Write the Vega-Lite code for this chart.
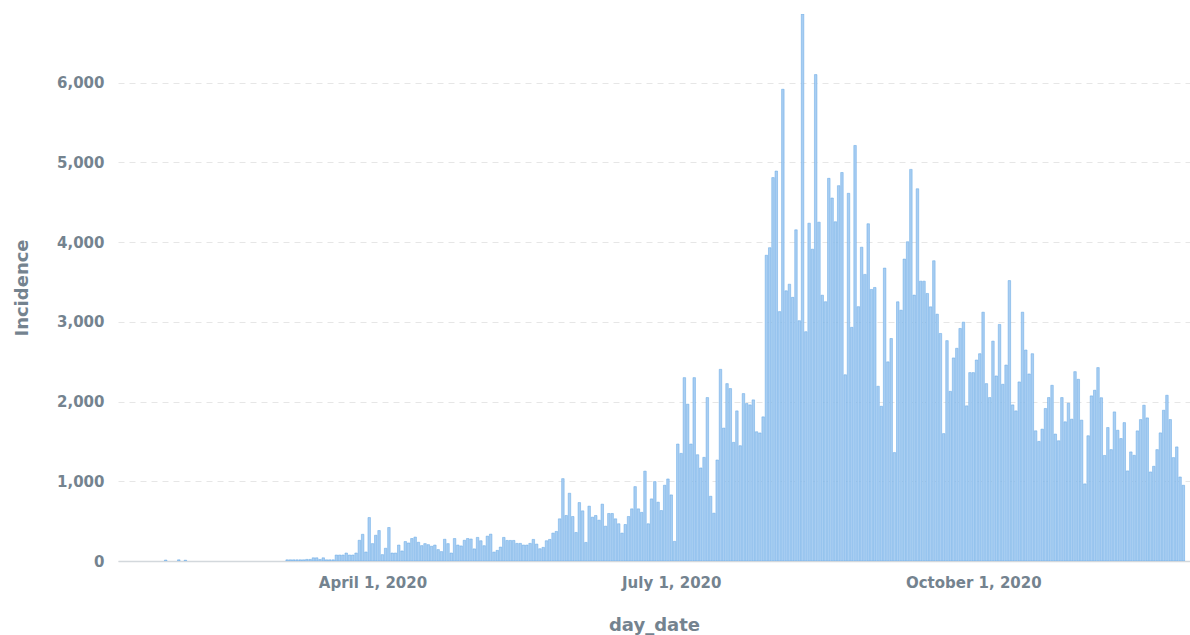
{
  "$schema": "https://vega.github.io/schema/vega-lite/v6.json",
  "autosize": {"type": "none"},
  "width": 1072,
  "height": 547,
  "padding": {"left": 118, "top": 14, "right": 0, "bottom": 74},
  "background": "white",
  "config": {"view": {"stroke": null}, "font": "DejaVu Sans"},
  "data": {"values": [
    {"day_date": "2020-01-29", "Incidence": 12},
    {"day_date": "2020-02-02", "Incidence": 15},
    {"day_date": "2020-02-04", "Incidence": 10},
    {"day_date": "2020-03-06", "Incidence": 15},
    {"day_date": "2020-03-07", "Incidence": 15},
    {"day_date": "2020-03-08", "Incidence": 15},
    {"day_date": "2020-03-09", "Incidence": 15},
    {"day_date": "2020-03-10", "Incidence": 15},
    {"day_date": "2020-03-11", "Incidence": 15},
    {"day_date": "2020-03-12", "Incidence": 20},
    {"day_date": "2020-03-13", "Incidence": 20},
    {"day_date": "2020-03-14", "Incidence": 40},
    {"day_date": "2020-03-15", "Incidence": 40},
    {"day_date": "2020-03-16", "Incidence": 20},
    {"day_date": "2020-03-17", "Incidence": 40},
    {"day_date": "2020-03-18", "Incidence": 15},
    {"day_date": "2020-03-19", "Incidence": 15},
    {"day_date": "2020-03-20", "Incidence": 15},
    {"day_date": "2020-03-21", "Incidence": 75},
    {"day_date": "2020-03-22", "Incidence": 75},
    {"day_date": "2020-03-23", "Incidence": 75},
    {"day_date": "2020-03-24", "Incidence": 100},
    {"day_date": "2020-03-25", "Incidence": 75},
    {"day_date": "2020-03-26", "Incidence": 75},
    {"day_date": "2020-03-27", "Incidence": 100},
    {"day_date": "2020-03-28", "Incidence": 260},
    {"day_date": "2020-03-29", "Incidence": 335},
    {"day_date": "2020-03-30", "Incidence": 113},
    {"day_date": "2020-03-31", "Incidence": 545},
    {"day_date": "2020-04-01", "Incidence": 218},
    {"day_date": "2020-04-02", "Incidence": 323},
    {"day_date": "2020-04-03", "Incidence": 382},
    {"day_date": "2020-04-04", "Incidence": 80},
    {"day_date": "2020-04-05", "Incidence": 160},
    {"day_date": "2020-04-06", "Incidence": 420},
    {"day_date": "2020-04-07", "Incidence": 100},
    {"day_date": "2020-04-08", "Incidence": 100},
    {"day_date": "2020-04-09", "Incidence": 200},
    {"day_date": "2020-04-10", "Incidence": 126},
    {"day_date": "2020-04-11", "Incidence": 244},
    {"day_date": "2020-04-12", "Incidence": 226},
    {"day_date": "2020-04-13", "Incidence": 282},
    {"day_date": "2020-04-14", "Incidence": 300},
    {"day_date": "2020-04-15", "Incidence": 235},
    {"day_date": "2020-04-16", "Incidence": 193},
    {"day_date": "2020-04-17", "Incidence": 218},
    {"day_date": "2020-04-18", "Incidence": 205},
    {"day_date": "2020-04-19", "Incidence": 185},
    {"day_date": "2020-04-20", "Incidence": 200},
    {"day_date": "2020-04-21", "Incidence": 143},
    {"day_date": "2020-04-22", "Incidence": 118},
    {"day_date": "2020-04-23", "Incidence": 273},
    {"day_date": "2020-04-24", "Incidence": 218},
    {"day_date": "2020-04-25", "Incidence": 100},
    {"day_date": "2020-04-26", "Incidence": 282},
    {"day_date": "2020-04-27", "Incidence": 200},
    {"day_date": "2020-04-28", "Incidence": 189},
    {"day_date": "2020-04-29", "Incidence": 260},
    {"day_date": "2020-04-30", "Incidence": 282},
    {"day_date": "2020-05-01", "Incidence": 276},
    {"day_date": "2020-05-02", "Incidence": 152},
    {"day_date": "2020-05-03", "Incidence": 296},
    {"day_date": "2020-05-04", "Incidence": 254},
    {"day_date": "2020-05-05", "Incidence": 192},
    {"day_date": "2020-05-06", "Incidence": 312},
    {"day_date": "2020-05-07", "Incidence": 337},
    {"day_date": "2020-05-08", "Incidence": 112},
    {"day_date": "2020-05-09", "Incidence": 133},
    {"day_date": "2020-05-10", "Incidence": 175},
    {"day_date": "2020-05-11", "Incidence": 296},
    {"day_date": "2020-05-12", "Incidence": 258},
    {"day_date": "2020-05-13", "Incidence": 258},
    {"day_date": "2020-05-14", "Incidence": 258},
    {"day_date": "2020-05-15", "Incidence": 221},
    {"day_date": "2020-05-16", "Incidence": 221},
    {"day_date": "2020-05-17", "Incidence": 200},
    {"day_date": "2020-05-18", "Incidence": 200},
    {"day_date": "2020-05-19", "Incidence": 221},
    {"day_date": "2020-05-20", "Incidence": 271},
    {"day_date": "2020-05-21", "Incidence": 212},
    {"day_date": "2020-05-22", "Incidence": 154},
    {"day_date": "2020-05-23", "Incidence": 171},
    {"day_date": "2020-05-24", "Incidence": 254},
    {"day_date": "2020-05-25", "Incidence": 271},
    {"day_date": "2020-05-26", "Incidence": 350},
    {"day_date": "2020-05-27", "Incidence": 371},
    {"day_date": "2020-05-28", "Incidence": 529},
    {"day_date": "2020-05-29", "Incidence": 1033},
    {"day_date": "2020-05-30", "Incidence": 571},
    {"day_date": "2020-05-31", "Incidence": 850},
    {"day_date": "2020-06-01", "Incidence": 558},
    {"day_date": "2020-06-02", "Incidence": 358},
    {"day_date": "2020-06-03", "Incidence": 733},
    {"day_date": "2020-06-04", "Incidence": 629},
    {"day_date": "2020-06-05", "Incidence": 233},
    {"day_date": "2020-06-06", "Incidence": 688},
    {"day_date": "2020-06-07", "Incidence": 550},
    {"day_date": "2020-06-08", "Incidence": 571},
    {"day_date": "2020-06-09", "Incidence": 512},
    {"day_date": "2020-06-10", "Incidence": 713},
    {"day_date": "2020-06-11", "Incidence": 437},
    {"day_date": "2020-06-12", "Incidence": 596},
    {"day_date": "2020-06-13", "Incidence": 596},
    {"day_date": "2020-06-14", "Incidence": 529},
    {"day_date": "2020-06-15", "Incidence": 467},
    {"day_date": "2020-06-16", "Incidence": 350},
    {"day_date": "2020-06-17", "Incidence": 458},
    {"day_date": "2020-06-18", "Incidence": 558},
    {"day_date": "2020-06-19", "Incidence": 654},
    {"day_date": "2020-06-20", "Incidence": 933},
    {"day_date": "2020-06-21", "Incidence": 654},
    {"day_date": "2020-06-22", "Incidence": 610},
    {"day_date": "2020-06-23", "Incidence": 1127},
    {"day_date": "2020-06-24", "Incidence": 467},
    {"day_date": "2020-06-25", "Incidence": 779},
    {"day_date": "2020-06-26", "Incidence": 996},
    {"day_date": "2020-06-27", "Incidence": 738},
    {"day_date": "2020-06-28", "Incidence": 633},
    {"day_date": "2020-06-29", "Incidence": 950},
    {"day_date": "2020-06-30", "Incidence": 1029},
    {"day_date": "2020-07-01", "Incidence": 829},
    {"day_date": "2020-07-02", "Incidence": 246},
    {"day_date": "2020-07-03", "Incidence": 1467},
    {"day_date": "2020-07-04", "Incidence": 1350},
    {"day_date": "2020-07-05", "Incidence": 2300},
    {"day_date": "2020-07-06", "Incidence": 1967},
    {"day_date": "2020-07-07", "Incidence": 1467},
    {"day_date": "2020-07-08", "Incidence": 2300},
    {"day_date": "2020-07-09", "Incidence": 1333},
    {"day_date": "2020-07-10", "Incidence": 1167},
    {"day_date": "2020-07-11", "Incidence": 1300},
    {"day_date": "2020-07-12", "Incidence": 2050},
    {"day_date": "2020-07-13", "Incidence": 812},
    {"day_date": "2020-07-14", "Incidence": 600},
    {"day_date": "2020-07-15", "Incidence": 1267},
    {"day_date": "2020-07-16", "Incidence": 2404},
    {"day_date": "2020-07-17", "Incidence": 1667},
    {"day_date": "2020-07-18", "Incidence": 2225},
    {"day_date": "2020-07-19", "Incidence": 2163},
    {"day_date": "2020-07-20", "Incidence": 1488},
    {"day_date": "2020-07-21", "Incidence": 1883},
    {"day_date": "2020-07-22", "Incidence": 1446},
    {"day_date": "2020-07-23", "Incidence": 2100},
    {"day_date": "2020-07-24", "Incidence": 1975},
    {"day_date": "2020-07-25", "Incidence": 1958},
    {"day_date": "2020-07-26", "Incidence": 2021},
    {"day_date": "2020-07-27", "Incidence": 1621},
    {"day_date": "2020-07-28", "Incidence": 1606},
    {"day_date": "2020-07-29", "Incidence": 1808},
    {"day_date": "2020-07-30", "Incidence": 3835},
    {"day_date": "2020-07-31", "Incidence": 3930},
    {"day_date": "2020-08-01", "Incidence": 4809},
    {"day_date": "2020-08-02", "Incidence": 4891},
    {"day_date": "2020-08-03", "Incidence": 3128},
    {"day_date": "2020-08-04", "Incidence": 5917},
    {"day_date": "2020-08-05", "Incidence": 3389},
    {"day_date": "2020-08-06", "Incidence": 3472},
    {"day_date": "2020-08-07", "Incidence": 3307},
    {"day_date": "2020-08-08", "Incidence": 4154},
    {"day_date": "2020-08-09", "Incidence": 3014},
    {"day_date": "2020-08-10", "Incidence": 6861},
    {"day_date": "2020-08-11", "Incidence": 2876},
    {"day_date": "2020-08-12", "Incidence": 4237},
    {"day_date": "2020-08-13", "Incidence": 3911},
    {"day_date": "2020-08-14", "Incidence": 6101},
    {"day_date": "2020-08-15", "Incidence": 4250},
    {"day_date": "2020-08-16", "Incidence": 3334},
    {"day_date": "2020-08-17", "Incidence": 3252},
    {"day_date": "2020-08-18", "Incidence": 4800},
    {"day_date": "2020-08-19", "Incidence": 4553},
    {"day_date": "2020-08-20", "Incidence": 4255},
    {"day_date": "2020-08-21", "Incidence": 4708},
    {"day_date": "2020-08-22", "Incidence": 4873},
    {"day_date": "2020-08-23", "Incidence": 2336},
    {"day_date": "2020-08-24", "Incidence": 4612},
    {"day_date": "2020-08-25", "Incidence": 2931},
    {"day_date": "2020-08-26", "Incidence": 5212},
    {"day_date": "2020-08-27", "Incidence": 3190},
    {"day_date": "2020-08-28", "Incidence": 3936},
    {"day_date": "2020-08-29", "Incidence": 3595},
    {"day_date": "2020-08-30", "Incidence": 4230},
    {"day_date": "2020-08-31", "Incidence": 3406},
    {"day_date": "2020-09-01", "Incidence": 3431},
    {"day_date": "2020-09-02", "Incidence": 2192},
    {"day_date": "2020-09-03", "Incidence": 1941},
    {"day_date": "2020-09-04", "Incidence": 3674},
    {"day_date": "2020-09-05", "Incidence": 2498},
    {"day_date": "2020-09-06", "Incidence": 2791},
    {"day_date": "2020-09-07", "Incidence": 1360},
    {"day_date": "2020-09-08", "Incidence": 3251},
    {"day_date": "2020-09-09", "Incidence": 3146},
    {"day_date": "2020-09-10", "Incidence": 3787},
    {"day_date": "2020-09-11", "Incidence": 4004},
    {"day_date": "2020-09-12", "Incidence": 4912},
    {"day_date": "2020-09-13", "Incidence": 3335},
    {"day_date": "2020-09-14", "Incidence": 4669},
    {"day_date": "2020-09-15", "Incidence": 3510},
    {"day_date": "2020-09-16", "Incidence": 3510},
    {"day_date": "2020-09-17", "Incidence": 3356},
    {"day_date": "2020-09-18", "Incidence": 3188},
    {"day_date": "2020-09-19", "Incidence": 3766},
    {"day_date": "2020-09-20", "Incidence": 3096},
    {"day_date": "2020-09-21", "Incidence": 2854},
    {"day_date": "2020-09-22", "Incidence": 1598},
    {"day_date": "2020-09-23", "Incidence": 2764},
    {"day_date": "2020-09-24", "Incidence": 2128},
    {"day_date": "2020-09-25", "Incidence": 2547},
    {"day_date": "2020-09-26", "Incidence": 2668},
    {"day_date": "2020-09-27", "Incidence": 2917},
    {"day_date": "2020-09-28", "Incidence": 2996},
    {"day_date": "2020-09-29", "Incidence": 1946},
    {"day_date": "2020-09-30", "Incidence": 2363},
    {"day_date": "2020-10-01", "Incidence": 2363},
    {"day_date": "2020-10-02", "Incidence": 2521},
    {"day_date": "2020-10-03", "Incidence": 2600},
    {"day_date": "2020-10-04", "Incidence": 3121},
    {"day_date": "2020-10-05", "Incidence": 2225},
    {"day_date": "2020-10-06", "Incidence": 2050},
    {"day_date": "2020-10-07", "Incidence": 2758},
    {"day_date": "2020-10-08", "Incidence": 2321},
    {"day_date": "2020-10-09", "Incidence": 2967},
    {"day_date": "2020-10-10", "Incidence": 2217},
    {"day_date": "2020-10-11", "Incidence": 2458},
    {"day_date": "2020-10-12", "Incidence": 3517},
    {"day_date": "2020-10-13", "Incidence": 1958},
    {"day_date": "2020-10-14", "Incidence": 1883},
    {"day_date": "2020-10-15", "Incidence": 2246},
    {"day_date": "2020-10-16", "Incidence": 3121},
    {"day_date": "2020-10-17", "Incidence": 2646},
    {"day_date": "2020-10-18", "Incidence": 2346},
    {"day_date": "2020-10-19", "Incidence": 2600},
    {"day_date": "2020-10-20", "Incidence": 1633},
    {"day_date": "2020-10-21", "Incidence": 1500},
    {"day_date": "2020-10-22", "Incidence": 1654},
    {"day_date": "2020-10-23", "Incidence": 1913},
    {"day_date": "2020-10-24", "Incidence": 2050},
    {"day_date": "2020-10-25", "Incidence": 2204},
    {"day_date": "2020-10-26", "Incidence": 1592},
    {"day_date": "2020-10-27", "Incidence": 1508},
    {"day_date": "2020-10-28", "Incidence": 2050},
    {"day_date": "2020-10-29", "Incidence": 1746},
    {"day_date": "2020-10-30", "Incidence": 1979},
    {"day_date": "2020-10-31", "Incidence": 1779},
    {"day_date": "2020-11-01", "Incidence": 2375},
    {"day_date": "2020-11-02", "Incidence": 2279},
    {"day_date": "2020-11-03", "Incidence": 1767},
    {"day_date": "2020-11-04", "Incidence": 967},
    {"day_date": "2020-11-05", "Incidence": 1571},
    {"day_date": "2020-11-06", "Incidence": 2071},
    {"day_date": "2020-11-07", "Incidence": 2142},
    {"day_date": "2020-11-08", "Incidence": 2426},
    {"day_date": "2020-11-09", "Incidence": 2048},
    {"day_date": "2020-11-10", "Incidence": 1324},
    {"day_date": "2020-11-11", "Incidence": 1674},
    {"day_date": "2020-11-12", "Incidence": 1397},
    {"day_date": "2020-11-13", "Incidence": 1870},
    {"day_date": "2020-11-14", "Incidence": 1640},
    {"day_date": "2020-11-15", "Incidence": 1536},
    {"day_date": "2020-11-16", "Incidence": 1736},
    {"day_date": "2020-11-17", "Incidence": 1130},
    {"day_date": "2020-11-18", "Incidence": 1368},
    {"day_date": "2020-11-19", "Incidence": 1326},
    {"day_date": "2020-11-20", "Incidence": 1632},
    {"day_date": "2020-11-21", "Incidence": 1774},
    {"day_date": "2020-11-22", "Incidence": 1954},
    {"day_date": "2020-11-23", "Incidence": 1795},
    {"day_date": "2020-11-24", "Incidence": 1117},
    {"day_date": "2020-11-25", "Incidence": 1188},
    {"day_date": "2020-11-26", "Incidence": 1397},
    {"day_date": "2020-11-27", "Incidence": 1607},
    {"day_date": "2020-11-28", "Incidence": 1891},
    {"day_date": "2020-11-29", "Incidence": 2079},
    {"day_date": "2020-11-30", "Incidence": 1774},
    {"day_date": "2020-12-01", "Incidence": 1297},
    {"day_date": "2020-12-02", "Incidence": 1431},
    {"day_date": "2020-12-03", "Incidence": 1054},
    {"day_date": "2020-12-04", "Incidence": 950}
  ]},
  "mark": {"type": "bar", "size": 2.5, "fill": "#a9cef2", "stroke": "#62a6e5", "strokeWidth": 0.5, "clip": true},
  "encoding": {
    "x": {
      "field": "day_date",
      "type": "temporal",
      "title": "day_date",
      "scale": {
        "type": "utc",
        "domain": [
          {"year": 2020, "month": 1, "date": 16, "utc": true},
          {"year": 2020, "month": 12, "date": 4, "hours": 12, "utc": true}
        ]
      },
      "axis": {
        "values": [
          {"year": 2020, "month": 4, "date": 1, "utc": true},
          {"year": 2020, "month": 7, "date": 1, "utc": true},
          {"year": 2020, "month": 10, "date": 1, "utc": true}
        ],
        "format": "%B %-d, %Y",
        "ticks": false,
        "grid": false,
        "domainColor": "#d3d8dc",
        "domainWidth": 1.5,
        "labelFont": "DejaVu Sans",
        "labelFontWeight": "bold",
        "labelFontSize": 15,
        "labelColor": "#74838f",
        "labelPadding": 14,
        "titleFont": "DejaVu Sans",
        "titleFontWeight": "bold",
        "titleFontSize": 18,
        "titleColor": "#74838f",
        "titlePadding": 26
      }
    },
    "y": {
      "field": "Incidence",
      "type": "quantitative",
      "title": "Incidence",
      "scale": {"domain": [0, 6861], "nice": false},
      "axis": {
        "values": [0, 1000, 2000, 3000, 4000, 5000, 6000],
        "format": ",.0f",
        "ticks": false,
        "domain": false,
        "grid": true,
        "gridColor": "#e6e6e6",
        "gridDash": [6, 5],
        "gridWidth": 1,
        "labelFont": "DejaVu Sans",
        "labelFontWeight": "bold",
        "labelFontSize": 15,
        "labelColor": "#74838f",
        "labelPadding": 14,
        "titleFont": "DejaVu Sans",
        "titleFontWeight": "bold",
        "titleFontSize": 18,
        "titleColor": "#74838f",
        "titlePadding": 25
      }
    }
  }
}
